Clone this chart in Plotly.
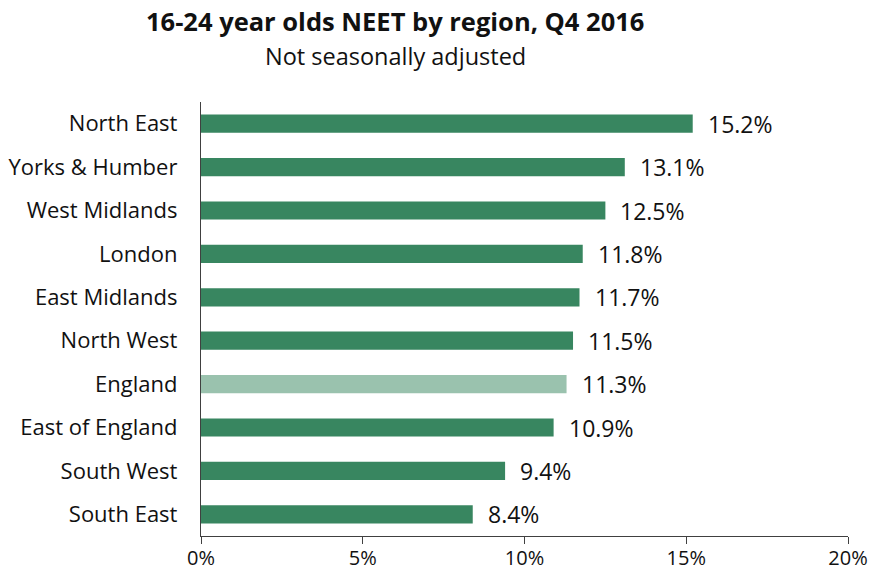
import plotly.graph_objects as go

regions = ["North East", "Yorks & Humber", "West Midlands", "London", "East Midlands",
           "North West", "England", "East of England", "South West", "South East"]
neet_pct = [15.2, 13.1, 12.5, 11.8, 11.7, 11.5, 11.3, 10.9, 9.4, 8.4]
x_ticks = [0, 5, 10, 15, 20]
x_tick_labels = ["0%", "5%", "10%", "15%", "20%"]

DARK = "#388660"
LIGHT = "#9AC2AE"
FONT = "Open Sans"
INK = "#111111"

colors = [LIGHT if r == "England" else DARK for r in regions]

fig = go.Figure(go.Bar(
    x=neet_pct,
    y=regions,
    orientation="h",
    marker=dict(color=colors, line=dict(width=0)),
    width=0.42,
    hoverinfo="skip",
))

# value labels to the right of each bar
for r, v in zip(regions, neet_pct):
    fig.add_annotation(
        x=v, y=r, text=f"{v:.1f}%", showarrow=False,
        xanchor="left", xshift=13,
        font=dict(family=FONT, size=23, color=INK),
    )

# title and subtitle
fig.add_annotation(text="<b>16-24 year olds NEET by region, Q4 2016</b>",
                   xref="paper", yref="paper", x=0.30, y=1.0,
                   xanchor="center", yanchor="middle",
                   yshift=81, showarrow=False,
                   font=dict(family=FONT, size=25.5, color=INK))
fig.add_annotation(text="Not seasonally adjusted",
                   xref="paper", yref="paper", x=0.30, y=1.0,
                   xanchor="center", yanchor="middle",
                   yshift=46, showarrow=False,
                   font=dict(family=FONT, size=23.5, color=INK))

fig.update_layout(
    width=873, height=573,
    margin=dict(l=201, r=25, t=102, b=37, autoexpand=False),
    paper_bgcolor="white", plot_bgcolor="white",
    showlegend=False,
    font=dict(family=FONT, size=22, color=INK),
)

fig.update_xaxes(
    range=[0, 20], tickvals=x_ticks, ticktext=x_tick_labels,
    showline=True, linecolor="#404040", linewidth=1.3,
    ticks="outside", ticklen=7, tickcolor="#404040", tickwidth=1.3,
    showgrid=False, zeroline=False, automargin=False,
    ticklabelstandoff=-3,
    tickfont=dict(family=FONT, size=20, color=INK),
)
fig.update_yaxes(
    categoryorder="array", categoryarray=regions[::-1],
    range=[-0.5, len(regions) - 0.5],
    showline=True, linecolor="#404040", linewidth=1.3,
    ticks="", showgrid=False, zeroline=False, automargin=False,
    ticklabelstandoff=18,
    tickfont=dict(family=FONT, size=22, color=INK),
)

fig.write_html("out.html")
